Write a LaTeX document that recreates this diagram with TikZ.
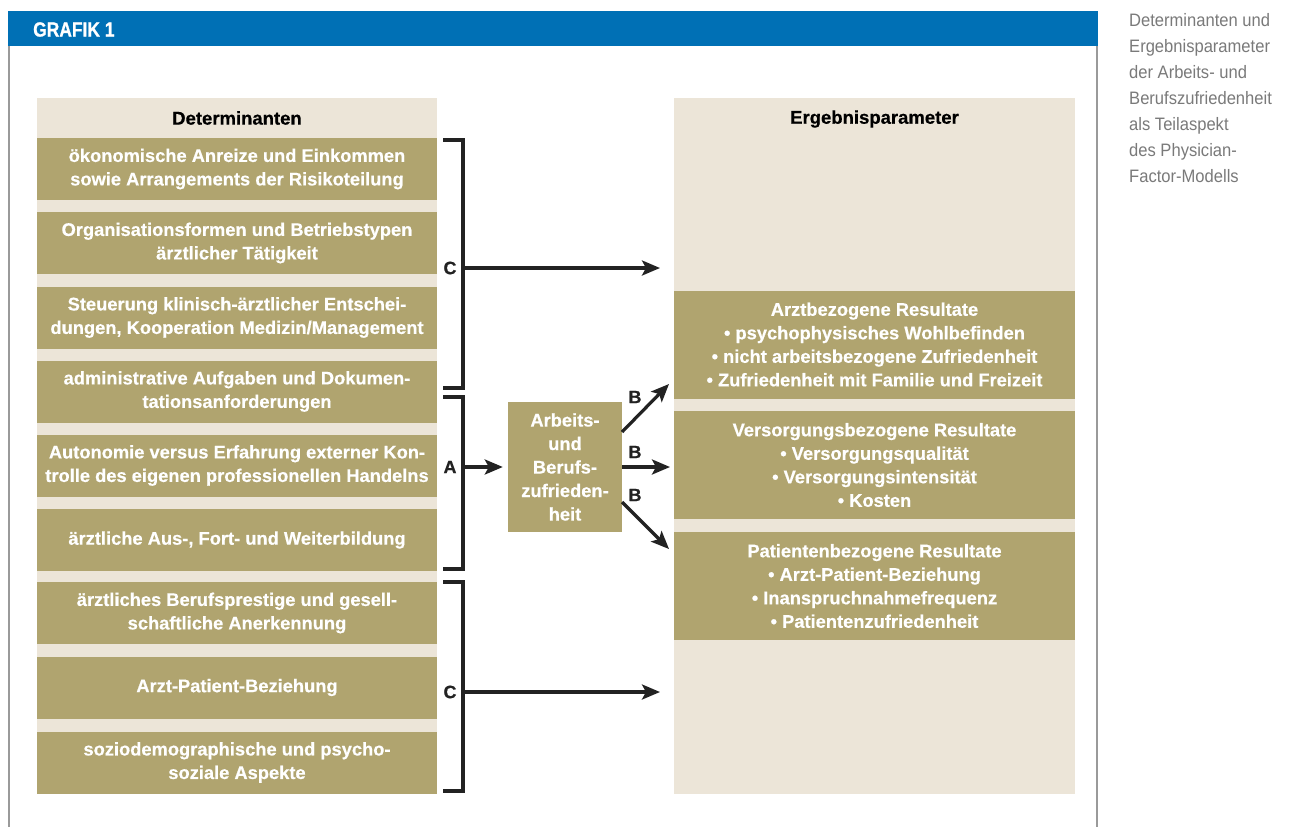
\documentclass[tikz,border=0pt]{standalone}
\usepackage{fontspec}
\setmainfont{Liberation Sans}[BoldFeatures={FakeBold=0.5}]
\newfontfamily\sidefont[FakeStretch=0.92]{Liberation Sans}
\newfontfamily\hdrfont[FakeStretch=0.85,BoldFeatures={FakeBold=0.8}]{Liberation Sans}
\usetikzlibrary{arrows.meta}
\definecolor{hblue}{HTML}{0070B5}
\definecolor{olive}{HTML}{B0A46F}
\definecolor{beige}{HTML}{ECE5D8}
\definecolor{framegray}{HTML}{9A9A9A}
\definecolor{ink}{HTML}{222222}
\definecolor{sidegray}{HTML}{7A7A7A}
\begin{document}
\begin{tikzpicture}[x=1pt,y=-1pt,
  boxtxt/.style={text=white,font=\fontsize{18.3}{23.5}\selectfont\bfseries,align=center,inner sep=0pt},
  det/.style={boxtxt,fill=olive,minimum width=400pt,minimum height=62pt},
  res/.style={boxtxt,fill=olive,minimum width=401pt,minimum height=108pt},
  colbg/.style={fill=beige,inner sep=0pt,minimum height=696pt},
  colhead/.style={text=black,font=\fontsize{18.5}{22}\selectfont\bfseries,inner sep=0pt},
  bracket/.style={draw=ink,line width=3.3pt,line join=miter},
  arr/.style={draw=ink,line width=3.2pt,-{Stealth[length=18pt,width=15pt,inset=4pt]}},
  lbl/.style={text=ink,font=\fontsize{18}{20}\selectfont\bfseries,inner sep=0pt},
]
\useasboundingbox (0,0) rectangle (1290,827);
\fill[white] (0,0) rectangle (1290,827);
% frame
\fill[hblue] (8,11) rectangle (1098,46);
\draw[framegray,line width=2.2pt] (9,46) -- (9,827);
\draw[framegray,line width=2.2pt] (1097,46) -- (1097,827);
\node[anchor=west,text=white,inner sep=0pt,font=\hdrfont\fontsize{20.5}{22}\selectfont\bfseries] (grafik) at (33,29.5) {GRAFIK 1};
% side caption
\node[anchor=north west,align=left,inner sep=0pt,text=sidegray,font=\sidefont\fontsize{18}{26}\selectfont] (caption) at (1129,13)
  {Determinanten und\\Ergebnisparameter\\der Arbeits- und\\Berufszufriedenheit\\als Teilaspekt\\des Physician-\\Factor-Modells};
% columns
\node[colbg,minimum width=400pt] (detbg) at (237,446) {};
\node[colbg,minimum width=401pt] (resbg) at (874.5,446) {};
\node[colhead] (dethead) at (237,118) {Determinanten};
\node[colhead] (reshead) at (874.5,119) {Ergebnisparameter};
% left boxes
\node[det] (d1) at (237,169) {ökonomische Anreize und Einkommen\\sowie Arrangements der Risikoteilung};
\node[det] (d2) at (237,243) {Organisationsformen und Betriebstypen\\ärztlicher Tätigkeit};
\node[det] (d3) at (237,317.5) {Steuerung klinisch-ärztlicher Entschei-\\dungen, Kooperation Medizin/Management};
\node[det] (d4) at (237,391.5) {administrative Aufgaben und Dokumen-\\tationsanforderungen};
\node[det] (d5) at (237,465.5) {Autonomie versus Erfahrung externer Kon-\\trolle des eigenen professionellen Handelns};
\node[det] (d6) at (237,540) {ärztliche Aus-, Fort- und Weiterbildung};
\node[det] (d7) at (237,613) {ärztliches Berufsprestige und gesell-\\schaftliche Anerkennung};
\node[det] (d8) at (237,687.5) {Arzt-Patient-Beziehung};
\node[det] (d9) at (237,762.5) {soziodemographische und psycho-\\soziale Aspekte};
% right boxes
\node[res] (r1) at (874.5,344.5) {Arztbezogene Resultate\\• psychophysisches Wohlbefinden\\• nicht arbeitsbezogene Zufriedenheit\\• Zufriedenheit mit Familie und Freizeit};
\node[res] (r2) at (874.5,465) {Versorgungsbezogene Resultate\\• Versorgungsqualität\\• Versorgungsintensität\\• Kosten};
\node[res] (r3) at (874.5,586) {Patientenbezogene Resultate\\• Arzt-Patient-Beziehung\\• Inanspruchnahmefrequenz\\• Patientenzufriedenheit};
% middle box
\node[boxtxt,fill=olive,minimum width=114pt,minimum height=130pt] (mid) at (565,467) {Arbeits-\\und\\Berufs-\\zufrieden-\\heit};
% brackets
\draw[bracket] (443,140) -- (463,140) -- (463,388) -- (443,388);
\draw[bracket] (443,397) -- (463,397) -- (463,569) -- (443,569);
\draw[bracket] (443,582) -- (463,582) -- (463,791) -- (443,791);
\coordinate (cA) at (463,268);
\coordinate (cAend) at (660,268);
\coordinate (aA) at (463,467);
\coordinate (cB) at (463,692);
\coordinate (cBend) at (660,692);
\node[lbl] (lc1) at (450,268) {C};
\node[lbl] (la) at (450,467) {A};
\node[lbl] (lc2) at (450,692) {C};
\draw[arr] (cA) -- (cAend);
\draw[arr] (cB) -- (cBend);
\draw[arr,shorten >=5pt] (aA) -- (mid.west);
% B arrows
\coordinate (b1s) at (622,432);
\coordinate (b2s) at (622,467);
\coordinate (b3s) at (622,502);
\coordinate (b1e) at (669,384);
\coordinate (b2e) at (670,467);
\coordinate (b3e) at (669,549);
\draw[arr] (b1s) -- (b1e);
\draw[arr] (mid.east) -- (b2e);
\draw[arr] (b3s) -- (b3e);
\node[lbl] (lb1) at (635,397) {B};
\node[lbl] (lb2) at (635,452) {B};
\node[lbl] (lb3) at (635,495) {B};
\end{tikzpicture}
\end{document}
